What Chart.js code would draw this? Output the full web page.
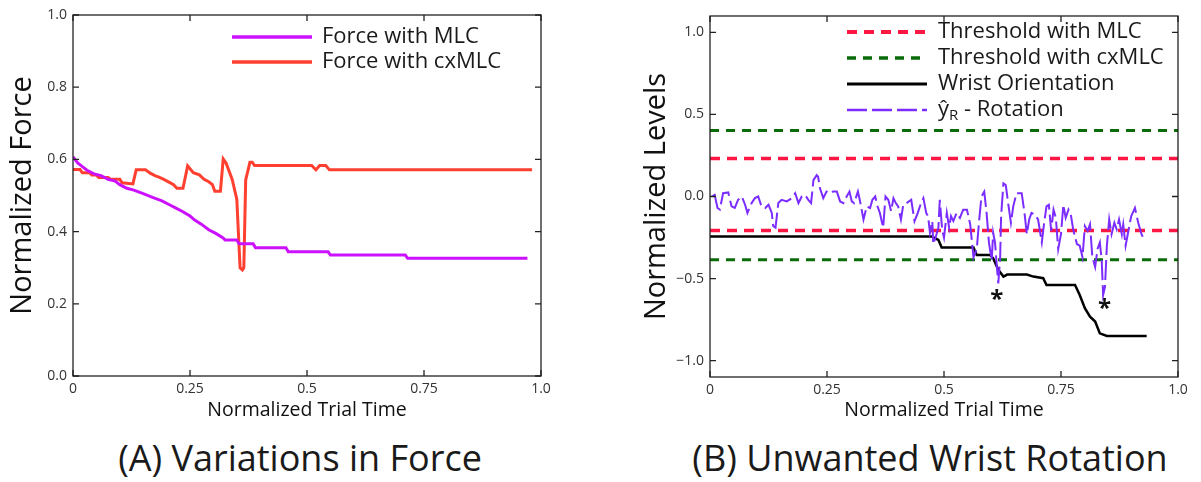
<!DOCTYPE html>
<html lang="en">
<head>
<meta charset="UTF-8">
<title>Force and wrist rotation</title>
<script src="https://cdn.jsdelivr.net/npm/chart.js"></script>
<style>
  body { margin: 0; background: #fff; width: 1201px; height: 482px; overflow: hidden; position: relative; font-family: "Open Sans", sans-serif; }
  .panel { position: absolute; top: 0; height: 430px; }
  #left { left: 0; width: 600px; }
  #right { left: 600px; width: 601px; }
  .caption { position: absolute; top: 434px; font-size: 36px; line-height: 48px; color: #1a1a1a; text-align: center; }
</style>
</head>
<body>
<div class="panel" id="left"><canvas id="forceChart"></canvas></div>
<div class="panel" id="right"><canvas id="wristChart"></canvas></div>
<div class="caption" style="left:0;width:600px">(A) Variations in Force</div>
<div class="caption" style="left:600px;width:660px">(B) Unwanted Wrist Rotation</div>

<script>
// shared x axis
const timeTicks = [0, 0.25, 0.5, 0.75, 1.0];
const timeTickLabels = ['0', '0.25', '0.5', '0.75', '1.0'];

// panel A: force
const forceTicks = [0, 0.2, 0.4, 0.6, 0.8, 1.0];
const forceTickLabels = ['0.0', '0.2', '0.4', '0.6', '0.8', '1.0'];
const mlcTime  = [0, 0.01, 0.02, 0.03, 0.045, 0.06, 0.075, 0.09, 0.1, 0.115, 0.13, 0.15, 0.17, 0.19, 0.205, 0.22, 0.235, 0.25, 0.26, 0.275, 0.29, 0.305, 0.32, 0.325, 0.35, 0.355, 0.385, 0.39, 0.455, 0.46, 0.545, 0.55, 0.71, 0.715, 0.971];
const mlcForce = [0.607, 0.59, 0.58, 0.57, 0.56, 0.555, 0.545, 0.54, 0.53, 0.52, 0.515, 0.505, 0.495, 0.485, 0.475, 0.465, 0.455, 0.443, 0.432, 0.42, 0.405, 0.395, 0.383, 0.377, 0.377, 0.366, 0.366, 0.355, 0.355, 0.344, 0.344, 0.335, 0.335, 0.326, 0.326];
const cxTime  = [0, 0.015, 0.02, 0.035, 0.04, 0.05, 0.055, 0.075, 0.08, 0.1, 0.105, 0.128, 0.135, 0.155, 0.165, 0.175, 0.185, 0.195, 0.205, 0.215, 0.222, 0.235, 0.245, 0.257, 0.27, 0.28, 0.29, 0.298, 0.303, 0.315, 0.321, 0.327, 0.34, 0.35, 0.357, 0.362, 0.365, 0.369, 0.378, 0.383, 0.388, 0.51, 0.519, 0.527, 0.54, 0.548, 0.981];
const cxForce = [0.572, 0.572, 0.563, 0.563, 0.557, 0.557, 0.55, 0.55, 0.545, 0.545, 0.535, 0.532, 0.571, 0.571, 0.562, 0.555, 0.55, 0.544, 0.537, 0.53, 0.52, 0.52, 0.582, 0.563, 0.557, 0.545, 0.538, 0.53, 0.512, 0.512, 0.601, 0.59, 0.545, 0.49, 0.3, 0.294, 0.3, 0.543, 0.592, 0.592, 0.583, 0.583, 0.571, 0.583, 0.583, 0.571, 0.571];

// panel B: wrist rotation
const levelTicks = [-1, -0.5, 0, 0.5, 1];
const levelTickLabels = ['\u22121.0', '\u22120.5', '0.0', '0.5', '1.0'];
const thresholdMLC = [0.232, -0.207];
const thresholdCxMLC = [0.402, -0.386];
const wristTime  = [0, 0.474, 0.488, 0.495, 0.563, 0.57, 0.598, 0.605, 0.616, 0.627, 0.635, 0.677, 0.691, 0.712, 0.719, 0.78, 0.79, 0.801, 0.812, 0.823, 0.833, 0.848, 0.933];
const wristLevel = [-0.244, -0.244, -0.264, -0.311, -0.311, -0.356, -0.356, -0.376, -0.447, -0.488, -0.476, -0.476, -0.488, -0.498, -0.539, -0.539, -0.6, -0.681, -0.732, -0.762, -0.834, -0.85, -0.85];
const rotTime = [0.004, 0.01, 0.016, 0.021, 0.028, 0.039, 0.046, 0.053, 0.06, 0.068, 0.075, 0.08, 0.089, 0.096, 0.103, 0.11, 0.118, 0.125, 0.132, 0.135, 0.14, 0.146, 0.153, 0.164, 0.175, 0.182, 0.189, 0.196, 0.203, 0.21, 0.216, 0.221, 0.228, 0.231, 0.235, 0.242, 0.249, 0.256, 0.263, 0.271, 0.278, 0.285, 0.292, 0.298, 0.303, 0.308, 0.316, 0.32, 0.328, 0.335, 0.342, 0.347, 0.353, 0.358, 0.363, 0.37, 0.375, 0.381, 0.387, 0.392, 0.397, 0.402, 0.408, 0.413, 0.42, 0.43, 0.437, 0.444, 0.451, 0.456, 0.462, 0.466, 0.47, 0.475, 0.477, 0.482, 0.488, 0.491, 0.496, 0.5, 0.506, 0.511, 0.515, 0.52, 0.527, 0.534, 0.541, 0.549, 0.556, 0.563, 0.57, 0.575, 0.58, 0.586, 0.591, 0.596, 0.602, 0.605, 0.609, 0.613, 0.616, 0.62, 0.622, 0.627, 0.632, 0.637, 0.643, 0.648, 0.655, 0.666, 0.672, 0.677, 0.682, 0.687, 0.694, 0.701, 0.709, 0.714, 0.719, 0.724, 0.729, 0.734, 0.739, 0.744, 0.75, 0.755, 0.76, 0.766, 0.771, 0.776, 0.784, 0.79, 0.796, 0.801, 0.807, 0.812, 0.817, 0.823, 0.828, 0.833, 0.837, 0.84, 0.844, 0.848, 0.853, 0.858, 0.864, 0.869, 0.874, 0.88, 0.883, 0.888, 0.894, 0.9, 0.908, 0.915, 0.922, 0.929];
const rotLevel = [0.0, 0.01, -0.07, -0.08, 0.02, 0.025, -0.06, -0.07, -0.02, 0.0, -0.05, -0.10, -0.04, -0.01, 0.0, -0.06, -0.07, -0.05, -0.10, -0.18, -0.19, -0.04, -0.02, -0.03, -0.01, 0.02, -0.04, 0.0, 0.01, -0.02, -0.04, 0.10, 0.13, 0.12, 0.05, -0.01, 0.03, 0.02, 0.03, 0.03, -0.03, -0.04, 0.0, 0.03, -0.03, -0.04, 0.03, -0.02, -0.14, -0.06, -0.07, -0.02, 0.0, -0.06, -0.10, -0.19, 0.0, -0.02, -0.09, -0.01, -0.04, -0.06, -0.14, -0.05, -0.04, -0.02, -0.15, -0.10, -0.04, -0.01, -0.10, -0.12, -0.22, -0.15, -0.29, -0.25, -0.19, -0.02, -0.20, -0.25, -0.10, -0.19, -0.12, -0.15, -0.10, -0.13, -0.08, -0.08, -0.17, -0.37, -0.32, -0.15, 0.0, 0.03, -0.10, -0.28, -0.39, -0.22, -0.28, -0.43, -0.53, -0.37, -0.12, 0.08, 0.07, -0.04, -0.16, -0.06, 0.02, 0.02, -0.10, -0.23, -0.14, -0.10, -0.11, -0.14, -0.28, -0.16, -0.06, -0.05, -0.21, -0.08, -0.13, -0.32, -0.23, -0.05, -0.13, -0.08, -0.11, -0.20, -0.29, -0.30, -0.37, -0.18, -0.21, -0.17, -0.37, -0.43, -0.32, -0.28, -0.39, -0.60, -0.55, -0.30, -0.14, -0.23, -0.16, -0.20, -0.14, -0.23, -0.17, -0.30, -0.21, -0.12, -0.07, -0.16, -0.23, -0.27];
const starTime  = [0.613, 0.843];
const starLevel = [-0.6, -0.655];

const toPoints = (xs, ys) => xs.map((x, i) => ({ x: x, y: ys[i] }));
const FONT = '"Open Sans", sans-serif';

// box round the plot with inward ticks on all four sides
const frame = {
  id: 'frame',
  afterDraw(chart) {
    const { ctx, chartArea: a, scales: { x, y } } = chart;
    ctx.save();
    ctx.strokeStyle = '#222';
    ctx.lineWidth = 1.3;
    ctx.strokeRect(a.left, a.top, a.right - a.left, a.bottom - a.top);
    ctx.beginPath();
    x.ticks.forEach(t => {
      const p = x.getPixelForValue(t.value);
      ctx.moveTo(p, a.bottom); ctx.lineTo(p, a.bottom - 6);
      ctx.moveTo(p, a.top); ctx.lineTo(p, a.top + 6);
    });
    y.ticks.forEach(t => {
      const p = y.getPixelForValue(t.value);
      ctx.moveTo(a.left, p); ctx.lineTo(a.left + 6, p);
      ctx.moveTo(a.right, p); ctx.lineTo(a.right - 6, p);
    });
    ctx.stroke();
    ctx.restore();
  }
};

// legend drawn inside the plot, no box
const innerLegend = {
  id: 'innerLegend',
  afterDraw(chart, args, opts) {
    const { ctx, chartArea: a } = chart;
    ctx.save();
    ctx.textBaseline = 'middle';
    ctx.fillStyle = '#1a1a1a';
    let row = 0;
    chart.data.datasets.forEach(ds => {
      if (!ds.label) return;
      const y = a.top + opts.top + row * opts.rowHeight;
      const x0 = a.left + opts.left;
      ctx.strokeStyle = ds.borderColor;
      ctx.lineWidth = ds.borderWidth + 0.5;
      ctx.setLineDash(ds.borderDash || []);
      ctx.beginPath(); ctx.moveTo(x0, y); ctx.lineTo(x0 + opts.lineLength, y); ctx.stroke();
      ctx.setLineDash([]);
      let tx = x0 + opts.lineLength + opts.gap;
      const parts = ds.label.split('_');
      ctx.font = opts.size + 'px ' + FONT;
      ctx.fillText(parts[0], tx, y);
      tx += ctx.measureText(parts[0]).width;
      if (parts.length > 1) {
        const sub = parts[1].charAt(0), rest = parts[1].slice(1);
        ctx.font = Math.round(opts.size * 0.7) + 'px ' + FONT;
        ctx.fillText(sub, tx, y + 6);
        tx += ctx.measureText(sub).width;
        ctx.font = opts.size + 'px ' + FONT;
        ctx.fillText(rest, tx, y);
      }
      row++;
    });
    ctx.restore();
  }
};

// asterisks under the two dips
const stars = {
  id: 'stars',
  afterDatasetsDraw(chart, args, opts) {
    if (!opts.xs) return;
    const { ctx, scales: { x, y } } = chart;
    ctx.save();
    ctx.font = 'bold 24px ' + FONT;
    ctx.fillStyle = '#111';
    ctx.textAlign = 'center';
    ctx.textBaseline = 'alphabetic';
    const m = ctx.measureText('*');
    const mid = (m.actualBoundingBoxAscent - m.actualBoundingBoxDescent) / 2;
    opts.xs.forEach((t, i) => {
      ctx.fillText('*', x.getPixelForValue(t), y.getPixelForValue(opts.ys[i]) + mid);
    });
    ctx.restore();
  }
};

function axis(min, max, ticks, labels, extra) {
  return Object.assign({
    type: 'linear', min: min, max: max,
    afterBuildTicks: s => { s.ticks = ticks.map(v => ({ value: v })); },
    ticks: { callback: (v, i) => labels[i], color: '#333', font: { family: FONT, size: 14 }, autoSkip: false, maxRotation: 0 },
    grid: { display: false, drawTicks: false },
    border: { display: false }
  }, extra);
}

function baseOptions(padding, xExtra, yExtra) {
  return {
    animation: false, responsive: true, maintainAspectRatio: false,
    layout: { padding: padding },
    elements: { point: { radius: 0 }, line: { tension: 0 } },
    plugins: { legend: { display: false }, tooltip: { enabled: false } },
    scales: { x: xExtra, y: yExtra }
  };
}

// ---- panel A ----
const optsA = baseOptions({ top: 15, right: 59, left: 0, bottom: 0 },
  axis(0, 1, timeTicks, timeTickLabels, {
    afterFit: s => { s.height = 54; },
    title: { display: true, text: 'Normalized Trial Time', color: '#111', font: { family: FONT, size: 19.5 }, padding: { top: 0, bottom: 8 } }
  }),
  axis(0, 1, forceTicks, forceTickLabels, {
    afterFit: s => { s.width = 73; },
    title: { display: true, text: 'Normalized Force', color: '#111', font: { family: FONT, size: 29 }, padding: { top: 5, bottom: 0 } }
  })
);
optsA.scales.x.ticks.padding = 5;
optsA.scales.y.ticks.padding = 6;
optsA.plugins.innerLegend = { left: 159, top: 22, rowHeight: 25, lineLength: 80, gap: 10, size: 22 };

new Chart(document.getElementById('forceChart'), {
  type: 'line',
  data: {
    datasets: [
      { label: 'Force with MLC', data: toPoints(mlcTime, mlcForce), borderColor: '#cc11ff', borderWidth: 3 },
      { label: 'Force with cxMLC', data: toPoints(cxTime, cxForce), borderColor: '#ff4030', borderWidth: 3 }
    ]
  },
  options: optsA,
  plugins: [frame, innerLegend]
});

// ---- panel B ----
const optsB = baseOptions({ top: 16, right: 23, left: 0, bottom: 0 },
  axis(0, 1, timeTicks, timeTickLabels, {
    afterFit: s => { s.height = 53; },
    title: { display: true, text: 'Normalized Trial Time', color: '#111', font: { family: FONT, size: 19.5 }, padding: { top: 0, bottom: 8 } }
  }),
  axis(-1.1, 1.1, levelTicks, levelTickLabels, {
    afterFit: s => { s.width = 110; },
    title: { display: true, text: 'Normalized Levels', color: '#111', font: { family: FONT, size: 29 }, padding: { top: 39, bottom: 0 } }
  })
);
optsB.scales.x.ticks.padding = 5;
optsB.scales.y.ticks.padding = 6;
optsB.plugins.innerLegend = { left: 137, top: 16, rowHeight: 26, lineLength: 80, gap: 11, size: 22 };
optsB.plugins.stars = { xs: starTime, ys: starLevel };

const thrLine = (level, label, color, dash, width) => ({
  label: label, data: toPoints([0, 1], [level, level]),
  borderColor: color, borderWidth: width, borderDash: dash, order: 3
});

new Chart(document.getElementById('wristChart'), {
  type: 'line',
  data: {
    datasets: [
      thrLine(thresholdMLC[0], 'Threshold with MLC', '#ff1744', [10, 7], 3.5),
      thrLine(thresholdCxMLC[0], 'Threshold with cxMLC', '#0a6b0a', [9, 7], 3),
      { label: 'Wrist Orientation', data: toPoints(wristTime, wristLevel), borderColor: '#000', borderWidth: 2.5, order: 2 },
      { label: '\u0177_R - Rotation', data: toPoints(rotTime, rotLevel), borderColor: '#7b2cff', borderWidth: 2, borderDash: [20, 5], order: 1 },
      thrLine(thresholdMLC[1], '', '#ff1744', [10, 7], 3.5),
      thrLine(thresholdCxMLC[1], '', '#0a6b0a', [9, 7], 3)
    ]
  },
  options: optsB,
  plugins: [frame, innerLegend, stars]
});
</script>
</body>
</html>
